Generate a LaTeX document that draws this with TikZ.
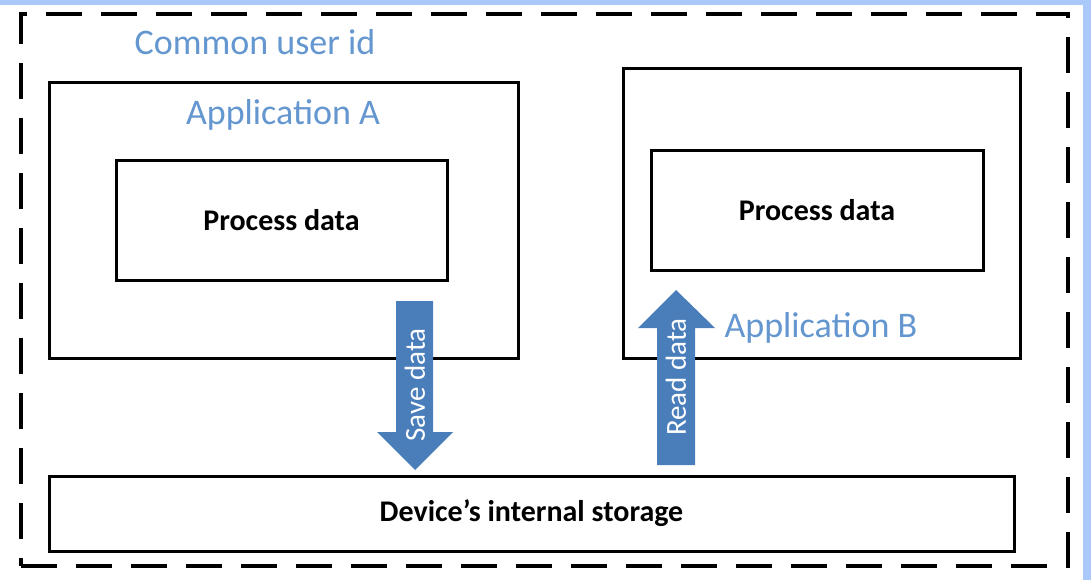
\documentclass[tikz,border=0pt]{standalone}
\usepackage{fontspec}
\setmainfont{Carlito}
\definecolor{bgblue}{RGB}{170,200,250}
\definecolor{lblblue}{RGB}{100,150,208}
\definecolor{arrblue}{RGB}{74,126,187}
\tikzset{
  box/.style={draw=black, line width=3pt, fill=white, inner sep=0pt},
  boldtxt/.style={font=\fontsize{30}{34}\selectfont\bfseries, text=black},
  lbl/.style={font=\fontsize{36}{40}\selectfont, text=lblblue},
  arrtxt/.style={font=\fontsize{29}{32}\selectfont, text=white, rotate=90},
  blockarrow/.style={fill=arrblue, draw=none}
}
\begin{document}
\begin{tikzpicture}[x=1pt,y=-1pt]
\fill[bgblue] (0,0) rectangle (1091,580);
\fill[white] (0,5) rectangle (1083,580);
\useasboundingbox (0,0) rectangle (1091,580);
% outer dashed region
\node[draw=black, line width=4pt, dash pattern=on 36pt off 19pt, minimum width=1047pt, minimum height=552pt, inner sep=0pt] (outer) at (544.5,290) {};
\node[lbl] (common) at (255,42) {Common user id};
% application boxes
\node[box, minimum width=469pt, minimum height=275pt] (appA) at (283.5,220.5) {};
\node[box, minimum width=397pt, minimum height=289pt] (appB) at (821.5,213.5) {};
\node[lbl] (appAlbl) at (283,115) {Application A};
\node[box, minimum width=331pt, minimum height=119pt, boldtxt] (procA) at (281.5,220.5) {Process data};
\node[box, minimum width=332pt, minimum height=119pt, boldtxt] (procB) at (817,210.5) {Process data};
\node[box, minimum width=965pt, minimum height=75pt, boldtxt] (storage) at (531.5,513.5) {Device’s internal storage};
% block arrows
\fill[blockarrow] (396,301) -- (433,301) -- (433,432) -- (453,432) -- (415,470) -- (377,432) -- (396,432) -- cycle;
\node[arrtxt] (save) at (415,385) {Save data};
\fill[blockarrow] (657,465) -- (695,465) -- (695,328) -- (715,328) -- (676,290) -- (638,328) -- (657,328) -- cycle;
\node[arrtxt] (read) at (676,377) {Read data};
\node[lbl, anchor=west] (appBlbl) at (721,328) {Application B};
\end{tikzpicture}
\end{document}
